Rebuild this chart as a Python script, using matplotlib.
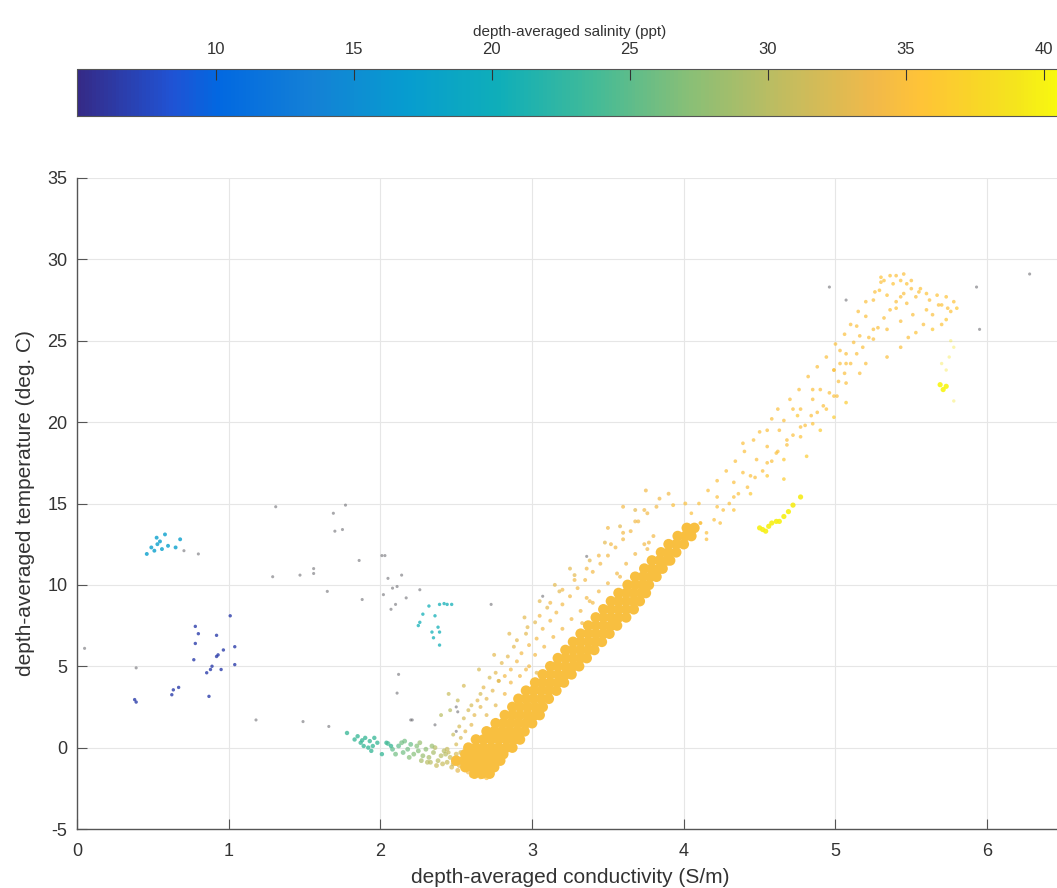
import numpy as np
import matplotlib
matplotlib.use("Agg")
import matplotlib.pyplot as plt
from matplotlib.colors import LinearSegmentedColormap

plt.rcParams['font.family'] = ['Liberation Sans', 'DejaVu Sans']
plt.rcParams['axes.unicode_minus'] = False

# parula-like colormap (MATLAB default)
parula_pts = [
    (0, (0.2081, 0.1663, 0.5292)),
    (6, (0.1253, 0.3242, 0.8303)),
    (9, (0.0060, 0.4086, 0.8828)),
    (15, (0.0779, 0.5040, 0.8384)),
    (21, (0.0265, 0.6137, 0.8135)),
    (27, (0.0590, 0.6838, 0.7254)),
    (33, (0.2586, 0.7317, 0.5954)),
    (39, (0.5300, 0.7491, 0.4661)),
    (45, (0.7525, 0.7384, 0.3768)),
    (51, (0.9450, 0.7261, 0.2886)),
    (54, (0.9990, 0.7653, 0.2164)),
    (57, (0.9789, 0.8271, 0.1633)),
    (60, (0.9589, 0.8949, 0.1132)),
    (63, (0.9763, 0.9831, 0.0538)),
]
parula = LinearSegmentedColormap.from_list(
    'parula', [(i / 63, c) for i, c in parula_pts])

SAL_MIN, SAL_MAX = 4.96, 40.7

# ---- data (conductivity S/m, temperature C, salinity ppt) ----
# dense main band, rows of constant temperature
core_rows = [
    (-1.6, [2.62, 2.67, 2.72]),
    (-1.2, [2.56, 2.61, 2.66, 2.71, 2.75]),
    (-0.8, [2.50, 2.55, 2.60, 2.65, 2.70, 2.75, 2.79]),
    (-0.4, [2.56, 2.61, 2.66, 2.71, 2.76, 2.81]),
    (0.0, [2.58, 2.63, 2.68, 2.73, 2.78, 2.83, 2.87]),
    (0.5, [2.63, 2.68, 2.73, 2.78, 2.83, 2.88, 2.92]),
    (1.0, [2.70, 2.75, 2.80, 2.85, 2.90, 2.95]),
    (1.5, [2.76, 2.81, 2.86, 2.91, 2.96, 3.00]),
    (2.0, [2.82, 2.87, 2.92, 2.97, 3.02, 3.05]),
    (2.5, [2.87, 2.92, 2.97, 3.02, 3.07]),
    (3.0, [2.91, 2.96, 3.01, 3.06, 3.11]),
    (3.5, [2.96, 3.01, 3.06, 3.11, 3.16]),
    (4.0, [3.02, 3.07, 3.12, 3.17, 3.21]),
    (4.5, [3.07, 3.12, 3.17, 3.22, 3.26]),
    (5.0, [3.12, 3.17, 3.22, 3.27, 3.31]),
    (5.5, [3.17, 3.22, 3.27, 3.32, 3.36]),
    (6.0, [3.22, 3.27, 3.32, 3.37, 3.41]),
    (6.5, [3.27, 3.32, 3.37, 3.42, 3.46]),
    (7.0, [3.32, 3.37, 3.42, 3.47, 3.51]),
    (7.5, [3.37, 3.42, 3.47, 3.52, 3.56]),
    (8.0, [3.42, 3.47, 3.52, 3.57, 3.62]),
    (8.5, [3.47, 3.52, 3.57, 3.62, 3.67]),
    (9.0, [3.52, 3.57, 3.62, 3.67, 3.71]),
    (9.5, [3.57, 3.62, 3.67, 3.72, 3.75]),
    (10.0, [3.63, 3.68, 3.73, 3.77]),
    (10.5, [3.68, 3.73, 3.78, 3.82]),
    (11.0, [3.74, 3.79, 3.84, 3.86]),
    (11.5, [3.79, 3.84, 3.89, 3.91]),
    (12.0, [3.85, 3.90, 3.95]),
    (12.5, [3.90, 3.95, 4.00]),
    (13.0, [3.96, 4.01, 4.05]),
    (13.5, [4.02, 4.07]),
]
core_sal = 34.8

# sparser fringe on the warm/fresh side of the band
fringe_c = [2.45, 2.50, 2.53, 2.56, 2.48, 2.60, 2.55, 2.62, 2.66, 2.60, 2.70, 2.66,
            2.74, 2.78, 2.72, 2.82, 2.86, 2.80, 2.90, 2.96, 2.93, 2.88, 2.98, 3.03,
            2.96, 3.07, 3.02, 3.12, 3.16, 3.10, 3.20, 3.25, 3.18, 3.30, 3.35, 3.28,
            3.40, 3.45, 3.38, 3.50, 3.55, 3.48, 3.60, 3.65, 3.58, 3.70, 3.76, 3.68,
            3.82, 2.46, 2.51, 2.40, 2.45, 2.55, 2.65, 2.75, 2.85, 2.95, 3.05, 3.15,
            3.25, 3.36, 3.40, 3.33, 3.58, 3.76, 3.77, 3.50, 3.60, 3.75, 3.93, 4.01,
            2.78, 3.03, 3.15,
            2.52, 2.58, 2.64, 2.68, 2.76, 2.84, 2.90, 2.97, 3.05, 3.12, 3.20, 3.28,
            3.36, 3.44, 3.52, 3.60, 3.68, 3.74, 3.84, 3.90, 2.70, 2.76, 2.82, 2.86,
            2.92, 2.98, 3.02, 3.08, 3.14, 3.20, 3.26, 3.32, 3.38, 3.44, 3.50, 3.56,
            3.62, 3.68, 3.74, 3.80]
fringe_t = [-0.3, 0.2, 0.6, 1.0, 0.8, 1.4, 1.8, 2.0, 2.5, 2.6, 3.0, 3.3,
            3.5, 4.1, 4.3, 4.4, 4.8, 5.2, 5.3, 4.8, 5.8, 6.2, 6.3, 6.7,
            7.0, 7.3, 7.7, 7.8, 8.3, 8.6, 8.8, 9.3, 9.6, 9.8, 10.3, 10.6,
            10.8, 11.3, 11.5, 11.8, 12.3, 12.6, 12.8, 13.3, 13.6, 13.9, 14.4, 14.6,
            14.8, 2.3, 2.9, 2.0, 3.3, 3.8, 4.8, 5.7, 7.0, 8.0, 9.0, 10.0,
            11.0, 9.2, 8.9, 7.65, 10.5, 12.2, 12.6, 13.5, 14.8, 15.8, 14.9, 15.0,
            4.1, 4.6, 5.2,
            1.3, 2.3, 2.9, 3.7, 4.6, 5.6, 6.6, 7.4, 8.1, 8.9, 9.7, 10.3,
            11.0, 11.8, 12.5, 13.2, 13.9, 14.6, 15.3, 15.6, 2.0, 2.6, 3.3, 4.0,
            4.4, 5.0, 5.7, 6.2, 6.8, 7.3, 7.9, 8.4, 9.0, 9.6, 10.1, 10.7,
            11.3, 11.9, 12.5, 13.0]
fringe_s = [31, 32, 32, 33, 31, 33, 32, 33, 33, 32, 33, 32,
            33, 33, 32, 34, 34, 33, 34, 34, 34, 33, 34, 34,
            33, 34, 33, 34, 34, 33, 34, 34, 33, 34, 34, 33,
            34, 34, 33, 34, 34, 33, 34, 34, 33, 34, 34, 33,
            34, 30, 31, 30, 31, 32, 32, 33, 33, 33, 33, 33,
            33, 34, 34, 34, 34, 34, 34, 34, 34, 34, 35, 35,
            33, 33, 33,
            32, 32, 33, 33, 33, 33, 33, 33, 34, 34, 34, 34,
            34, 34, 34, 34, 34, 34, 34, 34, 33, 33, 34, 34,
            34, 34, 34, 34, 34, 34, 34, 34, 34, 34, 34, 34,
            34, 34, 34, 34]

# trail from the green cluster into the band
trail_c = [2.05, 2.08, 2.12, 2.15, 2.18, 2.20, 2.22, 2.25, 2.28, 2.30, 2.32, 2.35,
           2.38, 2.40, 2.42, 2.44, 2.46, 2.48, 2.50, 2.52, 2.54, 2.56, 2.58, 2.60,
           2.66, 2.70, 2.26, 2.36, 2.44, 2.16, 2.33,
           2.10, 2.14, 2.19, 2.24, 2.27, 2.31, 2.34, 2.37, 2.41, 2.43, 2.47, 2.49,
           2.51, 2.53, 2.55, 2.57, 2.59, 2.62, 2.64, 2.68]
trail_t = [0.25, -0.1, 0.1, -0.3, -0.1, 0.2, -0.4, -0.2, -0.5, -0.1, -0.6, -0.3,
           -0.8, -0.5, -0.2, -0.9, -0.6, -1.0, -0.4, -1.1, -0.7, -1.3, -1.5, -1.7,
           -1.8, -1.85, 0.3, 0.0, -0.1, 0.4, -0.9,
           -0.4, 0.3, -0.6, 0.1, -0.8, -0.9, 0.1, -1.1, -1.0, -0.4, -1.2, -0.8,
           -1.4, -0.3, -1.0, -0.5, -1.2, -1.5, -0.9, -1.6]
trail_s = [24, 25, 25, 26, 26, 25.5, 27, 27, 28, 27.5, 29, 29,
           30, 30, 30, 31, 31, 32, 32, 33, 33, 34, 34, 34.5,
           35, 35, 28, 30, 31, 26, 30,
           26, 26, 27, 27, 29, 30, 28, 31, 31, 30, 32, 32,
           33, 32, 33, 33, 34, 34.5, 34.5, 35]

# green cluster near 0 C
green_c = [1.78, 1.83, 1.87, 1.90, 1.93, 1.95, 1.92, 1.96, 1.89, 2.01, 2.04, 2.07,
           1.85, 1.98, 1.94, 1.88]
green_t = [0.9, 0.5, 0.3, 0.6, 0.4, 0.1, 0.0, 0.6, 0.1, -0.4, 0.3, 0.1,
           0.7, 0.3, -0.2, 0.45]
green_sal = 23.5

# upper, warmer part of the band
upper_c = [4.11, 4.22, 4.33, 4.39, 4.48, 4.55, 4.63, 4.72, 4.75, 4.85, 4.90, 4.99,
           5.03, 5.07, 5.12, 5.16, 5.14, 5.20, 5.25, 5.29, 5.32, 5.34, 5.38, 5.43,
           5.47, 5.43, 5.47, 5.53, 5.60, 5.67, 5.73, 5.78, 5.80, 5.51, 5.64, 5.43,
           5.34, 5.25, 5.64, 5.53, 5.73, 5.25, 5.34, 5.43, 5.20, 5.16, 5.07, 5.01,
           4.94, 4.85, 4.77, 4.66, 4.55, 4.44, 4.33, 4.24, 4.15, 4.00, 4.11, 4.22,
           4.33, 4.44, 4.55, 4.61, 4.68, 4.77, 4.88, 4.99, 5.07, 4.39, 4.55, 4.66,
           4.77, 4.85, 4.99, 5.03, 4.66, 4.81, 4.90, 4.99, 5.07, 5.36, 5.30, 5.56,
           5.70, 5.40, 5.60,
           4.15, 4.20, 4.26, 4.30, 4.36, 4.42, 4.47, 4.52, 4.58, 4.62, 4.68, 4.72,
           4.80, 4.84, 4.92, 4.96, 5.02, 5.06, 5.10, 5.14, 5.18, 5.22, 5.28, 5.32,
           5.36, 5.40, 5.45, 5.50, 5.55, 5.62, 5.68, 5.74, 5.70, 5.76, 5.58, 5.48,
           4.05, 4.10, 4.16, 4.22, 4.28, 4.34, 4.40, 4.46, 4.50, 4.58, 4.62, 4.70,
           4.76, 4.82, 4.88, 4.94, 5.00, 5.06, 5.10, 5.15, 5.20, 5.26, 5.30, 5.40,
           5.45, 5.50]
upper_t = [13.8, 15.4, 16.3, 16.9, 17.7, 18.5, 19.5, 20.8, 20.4, 21.4, 22.0, 23.2,
           23.6, 24.2, 24.9, 25.3, 25.9, 26.5, 27.5, 28.1, 28.7, 27.8, 28.5, 28.7,
           28.5, 27.7, 27.3, 27.7, 27.9, 27.8, 27.7, 27.4, 27.0, 26.6, 26.6, 26.2,
           25.7, 25.1, 25.7, 25.5, 26.3, 25.7, 24.0, 24.6, 23.6, 23.0, 22.4, 21.6,
           20.8, 19.9, 19.1, 17.7, 16.7, 15.6, 14.6, 13.8, 12.8, 13.0, 13.8, 14.8,
           15.4, 16.7, 17.5, 18.1, 18.9, 19.7, 20.6, 21.6, 23.6, 18.7, 19.5, 20.1,
           20.8, 22.0, 23.2, 24.4, 16.5, 17.9, 19.5, 20.3, 21.2, 29.0, 28.9, 28.2,
           27.2, 27.0, 26.9,
           13.2, 14.0, 14.6, 15.0, 15.6, 16.0, 16.6, 17.0, 17.6, 18.2, 18.6, 19.2,
           19.8, 20.4, 21.0, 21.8, 22.5, 23.0, 23.6, 24.2, 24.6, 25.2, 25.8, 26.4,
           26.9, 27.4, 27.9, 28.2, 28.0, 27.5, 27.2, 27.0, 26.0, 26.8, 26.0, 25.2,
           14.4, 15.0, 15.8, 16.4, 17.0, 17.6, 18.2, 18.9, 19.4, 20.2, 20.8, 21.4,
           22.0, 22.8, 23.4, 24.0, 24.8, 25.4, 26.0, 26.8, 27.4, 28.0, 28.6, 29.0,
           29.1, 28.7]
upper_s = [35, 35, 35, 35, 35, 35, 35, 35, 36, 35, 35, 35,
           35, 35, 35, 35, 35, 35, 35, 35.5, 35.5, 35.5, 35.5, 35.5,
           35.5, 35, 35, 35, 35.5, 35.5, 35.5, 35.5, 36, 35, 35, 35,
           35, 35, 36, 35.5, 36, 35, 35, 35, 35, 35, 35, 35,
           35.5, 35.5, 35.5, 36, 36, 36, 35.5, 35, 35, 35, 35, 35,
           35, 35, 35, 35, 35, 35, 35, 35, 35, 35, 35, 35,
           35, 35, 35, 35, 36.5, 36.5, 36.5, 36.5, 36.5, 35.5, 35.5, 35.5,
           35.5, 35.5, 35.5,
           35, 35, 35, 35, 35, 35, 35, 35, 35, 35, 35, 35,
           35, 35, 35, 35, 35, 35, 35, 35, 35, 35, 35, 35,
           35, 35, 35, 35, 35, 35, 35, 35, 35.5, 35.5, 35, 35,
           35, 35, 35, 35, 35, 35, 35, 35, 35, 35, 35, 35,
           35, 35, 35, 35, 35, 35, 35, 35, 35, 35, 35, 35,
           35, 35]

# very salty patches
yellow_c = [4.52, 4.56, 4.61, 4.66, 4.69, 4.72, 4.77, 4.54, 4.63, 4.50, 4.58,
            5.69, 5.73, 5.71]
yellow_t = [13.4, 13.6, 13.9, 14.2, 14.5, 14.9, 15.4, 13.3, 13.9, 13.5, 13.8,
            22.3, 22.2, 22.0]
yellow_s = [39.8, 39.8, 39.8, 39.8, 39.8, 39.5, 39.5, 39.8, 39.8, 39.8, 39.8,
            40.2, 40.2, 40.2]
faint_yellow_c = [5.73, 5.75, 5.78, 5.78, 5.70, 5.76]
faint_yellow_t = [23.2, 24.0, 24.6, 21.3, 23.6, 25.0]
faint_yellow_s = [39, 39, 39, 39, 39, 39]

# fresher clusters on the left
cyan_c = [0.46, 0.49, 0.53, 0.547, 0.58, 0.60, 0.65, 0.68, 0.525, 0.51, 0.56]
cyan_t = [11.9, 12.3, 12.5, 12.67, 13.1, 12.4, 12.3, 12.8, 12.9, 12.1, 12.2]
cyan_sal = 17.5

teal_c = [2.32, 2.39, 2.44, 2.47, 2.28, 2.36, 2.26, 2.25, 2.34, 2.38, 2.39, 2.35,
          2.39, 2.42]
teal_t = [8.7, 8.8, 8.8, 8.8, 8.2, 8.1, 7.7, 7.5, 7.1, 7.4, 7.1, 6.75,
          6.3, 8.85]
teal_sal = 20.5

blue_c = [0.78, 0.80, 0.78, 1.01, 0.92, 0.965, 1.04, 0.92, 0.77, 0.88, 0.855, 0.89,
          0.95, 1.04, 0.87, 0.635, 0.625, 0.67, 0.38, 0.39, 0.93]
blue_t = [7.45, 7.0, 6.4, 8.1, 6.9, 6.0, 6.2, 5.6, 5.4, 4.8, 4.6, 5.0,
          4.8, 5.1, 3.15, 3.55, 3.25, 3.7, 2.95, 2.8, 5.7]
blue_sal = 6.5

# isolated readings (render greyish)
iso_c = [1.31, 1.77, 1.69, 1.70, 1.75, 0.705, 0.80, 1.29, 1.47, 1.56, 1.56, 1.65,
         1.86, 2.01, 2.03, 1.88, 2.05, 2.14, 2.08, 2.11, 2.02, 2.17, 2.10, 2.07,
         2.26, 0.39, 0.05, 1.18, 1.49, 1.66, 2.12, 2.11, 2.20, 2.36, 2.50, 2.51,
         2.50, 2.21, 2.73, 3.36, 3.07, 6.28, 5.93, 5.95, 5.07, 4.96]
iso_t = [14.8, 14.9, 14.4, 13.3, 13.4, 12.1, 11.9, 10.5, 10.6, 11.0, 10.7, 9.6,
         11.5, 11.8, 11.8, 9.1, 10.4, 10.6, 9.8, 9.9, 9.4, 9.2, 8.8, 8.5,
         9.7, 4.9, 6.1, 1.7, 1.6, 1.3, 4.5, 3.35, 1.7, 1.4, 2.5, 2.2,
         1.0, 1.7, 8.8, 11.75, 9.3, 29.1, 28.3, 25.7, 27.5, 28.3]

xticks = [0, 1, 2, 3, 4, 5, 6]
yticks = [-5, 0, 5, 10, 15, 20, 25, 30, 35]
cbar_ticks = [10, 15, 20, 25, 30, 35, 40]

core_c = [c for t, cs in core_rows for c in cs]
core_t = [t for t, cs in core_rows for c in cs]

# ---- figure ----
W, H = 1057, 888
fig = plt.figure(figsize=(W / 100, H / 100), dpi=100)
ax_left, ax_right = 77, 1063
ax = fig.add_axes([ax_left / W, (H - 829) / H, (ax_right - ax_left) / W, (829 - 178) / H])
cax = fig.add_axes([ax_left / W, (H - 116) / H, (ax_right - ax_left) / W, 47 / H])

kw = dict(cmap=parula, vmin=SAL_MIN, vmax=SAL_MAX, edgecolors='none')
ax.scatter(iso_c, iso_t, color='#6e6e74', s=5, alpha=0.6, edgecolors='none')
ax.scatter(blue_c, blue_t, c=[blue_sal] * len(blue_c), s=6, alpha=0.8, **kw)
ax.scatter(cyan_c, cyan_t, c=[cyan_sal] * len(cyan_c), s=8, alpha=0.8, **kw)
ax.scatter(teal_c, teal_t, c=[teal_sal] * len(teal_c), s=6, alpha=0.75, **kw)
ax.scatter(green_c, green_t, c=[green_sal] * len(green_c), s=10, alpha=0.8, **kw)
ax.scatter(trail_c, trail_t, c=trail_s, s=12, alpha=0.7, **kw)
ax.scatter(fringe_c, fringe_t, c=fringe_s, s=8, alpha=0.7, **kw)
sc = ax.scatter(core_c, core_t, c=[core_sal] * len(core_c), s=58, **kw)
ax.scatter(upper_c, upper_t, c=upper_s, s=7, alpha=0.7, **kw)
ax.scatter(faint_yellow_c, faint_yellow_t, c=faint_yellow_s, s=6, alpha=0.35, **kw)
ax.scatter(yellow_c, yellow_t, c=yellow_s, s=14, alpha=0.9, **kw)

ax.set_xlim(0, 6.5)
ax.set_ylim(-5, 35)
ax.set_xticks(xticks)
ax.set_yticks(yticks)
ax.grid(True, color='#e6e6e6', linewidth=0.8)
ax.set_axisbelow(True)
for side in ['top', 'right']:
    ax.spines[side].set_visible(False)
for side in ['left', 'bottom']:
    ax.spines[side].set_color('#555555')
    ax.spines[side].set_linewidth(1.0)
ax.tick_params(direction='in', length=7, width=0.8, color='#555555',
               labelsize=13, labelcolor='#333333')
ax.tick_params(axis='x', pad=10)
ax.tick_params(axis='y', pad=7)
ax.set_xlabel('depth-averaged conductivity (S/m)', fontsize=15, color='#333333', labelpad=6)
ax.set_ylabel('depth-averaged temperature (deg. C)', fontsize=15, color='#333333', labelpad=9)

cb = fig.colorbar(sc, cax=cax, orientation='horizontal', ticks=cbar_ticks)
cb.solids.set_alpha(1)
cax.xaxis.set_ticks_position('top')
cax.xaxis.set_label_position('top')
cax.tick_params(direction='in', length=8, width=0.8, color='#333333',
                labelsize=12, labelcolor='#333333', pad=9)
cb.outline.set_edgecolor('#555555')
cb.outline.set_linewidth(0.8)
cb.set_label('depth-averaged salinity (ppt)', fontsize=11, color='#333333', labelpad=4)

fig.savefig('out.png', dpi=100)
